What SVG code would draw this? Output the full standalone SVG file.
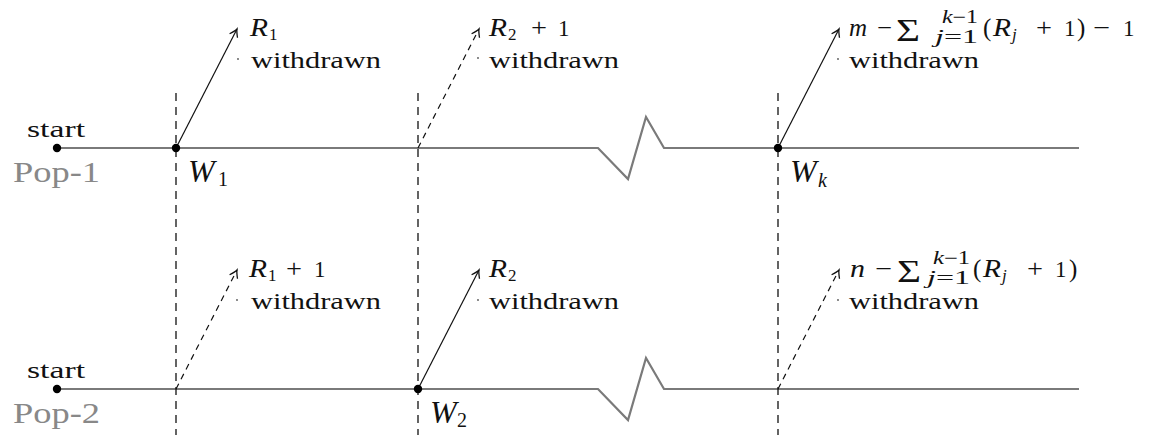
<svg xmlns="http://www.w3.org/2000/svg" width="1153" height="435" viewBox="0 0 1153 435">
<defs>
<marker id="to" markerUnits="userSpaceOnUse" markerWidth="14" markerHeight="14" viewBox="-8 -6 10 12" refX="0" refY="0" orient="auto">
<path d="M-6.5,-3.8 Q-2,-0.6 0,0 Q-2,0.6 -6.5,3.8" fill="none" stroke="#111" stroke-width="1.1"/>
</marker>
</defs>
<style>
text{font-family:"Liberation Serif","Times New Roman",serif;fill:#111}
.lbl{font-size:24px}
.pop{font-size:30px;fill:#888}
.m{font-size:23px}
.v{font-size:25px;font-style:italic}
.op{font-size:25px}
.big{font-size:32px}
.it{font-style:italic}
.sub{font-size:17px}
.ss{font-size:18px}
.W{font-size:32px;font-style:italic}
.time{fill:none;stroke:#7a7a7a;stroke-width:2.2;stroke-linejoin:miter}
.guide{fill:none;stroke:#111;stroke-width:1.3;stroke-dasharray:8 6}
.arr{fill:none;stroke:#111;stroke-width:1.2;marker-end:url(#to)}
.arr.d{stroke-dasharray:6 5}
.dot{fill:#000}
.tiny{fill:#555}
</style>

<g id="timelines">
<path class="time" d="M57,148 H598 L628,179 L646,117 L664,148 H1079"/>
<path class="time" d="M57,389 H598 L628,420 L646,358 L664,389 H1079"/>
</g>

<g id="guides">
<line class="guide" x1="176" y1="93" x2="176" y2="435"/>
<line class="guide" x1="418" y1="93" x2="418" y2="435"/>
<line class="guide" x1="778" y1="93" x2="778" y2="435"/>
</g>

<g id="connectors">
<line class="arr" x1="176" y1="148" x2="237" y2="29"/>
<line class="arr d" x1="418" y1="148" x2="479" y2="29"/>
<line class="arr" x1="778" y1="148" x2="839" y2="29"/>
<line class="arr d" x1="176" y1="389" x2="237" y2="270"/>
<line class="arr" x1="418" y1="389" x2="479" y2="270"/>
<line class="arr d" x1="778" y1="389" x2="839" y2="270"/>
</g>

<g id="pop1">
<circle class="dot" cx="57" cy="148" r="4.2"/>
<text class="lbl" x="27" y="137" textLength="58" lengthAdjust="spacingAndGlyphs">start</text>
<text class="pop" x="13" y="182" textLength="87" lengthAdjust="spacingAndGlyphs">Pop-1</text>
</g>

<g id="pop2">
<circle class="dot" cx="57" cy="389" r="4.2"/>
<text class="lbl" x="27" y="378" textLength="58" lengthAdjust="spacingAndGlyphs">start</text>
<text class="pop" x="13" y="423" textLength="87" lengthAdjust="spacingAndGlyphs">Pop-2</text>
</g>

<g id="w1">
<circle class="dot" cx="176" cy="148" r="4.2"/>
<text class="W" x="188" y="182">W</text>
<text x="218" y="186" style="font-size:20px">1</text>
</g>

<g id="wk">
<circle class="dot" cx="778" cy="148" r="4.2"/>
<text class="W" x="790" y="182">W</text>
<text class="it" x="818" y="187" style="font-size:20px">k</text>
</g>

<g id="w2">
<circle class="dot" cx="418" cy="389" r="4.2"/>
<text class="W" x="430" y="423">W</text>
<text x="457" y="427" style="font-size:20px">2</text>
</g>

<g id="label-r1">
<circle class="tiny" cx="238" cy="59" r="0.9"/>
<text class="v" x="250" y="36" textLength="18" lengthAdjust="spacingAndGlyphs">R</text>
<text class="sub" x="269" y="40">1</text>
<text class="lbl" x="251" y="68" textLength="130" lengthAdjust="spacingAndGlyphs">withdrawn</text>
</g>

<g id="label-r2p1">
<circle class="tiny" cx="478" cy="58" r="0.9"/>
<text class="v" x="489" y="36" textLength="18" lengthAdjust="spacingAndGlyphs">R</text>
<text class="sub" x="508" y="40">2</text>
<text class="op" x="531" y="36" textLength="16" lengthAdjust="spacingAndGlyphs">+</text>
<text class="m" x="558" y="36">1</text>
<text class="lbl" x="489" y="68" textLength="130" lengthAdjust="spacingAndGlyphs">withdrawn</text>
</g>

<g id="label-m">
<circle class="tiny" cx="838" cy="59" r="0.9"/>
<text class="v" x="849" y="36">m</text>
<text class="op" x="877" y="36" textLength="15" lengthAdjust="spacingAndGlyphs">−</text>
<text class="big" x="896" y="41" textLength="24" lengthAdjust="spacingAndGlyphs">Σ</text>
<text class="ss" x="942" y="23" textLength="36" lengthAdjust="spacingAndGlyphs"><tspan class="it">k</tspan>−1</text>
<text class="ss" x="935" y="43" textLength="43" lengthAdjust="spacingAndGlyphs"><tspan class="it">j</tspan>=1</text>
<text class="op" x="983" y="36">(</text>
<text class="v" x="993" y="36" textLength="18" lengthAdjust="spacingAndGlyphs">R</text>
<text class="sub it" x="1012" y="40">j</text>
<text class="op" x="1036" y="36" textLength="16" lengthAdjust="spacingAndGlyphs">+</text>
<text class="m" x="1064" y="36">1</text>
<text class="op" x="1077" y="36">)</text>
<text class="op" x="1093" y="36" textLength="17" lengthAdjust="spacingAndGlyphs">−</text>
<text class="m" x="1123" y="36">1</text>
<text class="lbl" x="849" y="68" textLength="130" lengthAdjust="spacingAndGlyphs">withdrawn</text>
</g>

<g id="label-r1p1">
<circle class="tiny" cx="237" cy="300" r="0.9"/>
<text class="v" x="249" y="277" textLength="18" lengthAdjust="spacingAndGlyphs">R</text>
<text class="sub" x="268" y="281">1</text>
<text class="op" x="286" y="277" textLength="16" lengthAdjust="spacingAndGlyphs">+</text>
<text class="m" x="314" y="277">1</text>
<text class="lbl" x="251" y="309" textLength="130" lengthAdjust="spacingAndGlyphs">withdrawn</text>
</g>

<g id="label-r2">
<circle class="tiny" cx="478" cy="300" r="0.9"/>
<text class="v" x="489" y="277" textLength="18" lengthAdjust="spacingAndGlyphs">R</text>
<text class="sub" x="508" y="281">2</text>
<text class="lbl" x="489" y="309" textLength="130" lengthAdjust="spacingAndGlyphs">withdrawn</text>
</g>

<g id="label-n">
<circle class="tiny" cx="838" cy="300" r="0.9"/>
<text class="v" x="850" y="277" textLength="15" lengthAdjust="spacingAndGlyphs">n</text>
<text class="op" x="875" y="277" textLength="17" lengthAdjust="spacingAndGlyphs">−</text>
<text class="big" x="897" y="282" textLength="24" lengthAdjust="spacingAndGlyphs">Σ</text>
<text class="ss" x="933" y="264" textLength="37" lengthAdjust="spacingAndGlyphs"><tspan class="it">k</tspan>−1</text>
<text class="ss" x="927" y="284" textLength="43" lengthAdjust="spacingAndGlyphs"><tspan class="it">j</tspan>=1</text>
<text class="op" x="973" y="277">(</text>
<text class="v" x="983" y="277" textLength="18" lengthAdjust="spacingAndGlyphs">R</text>
<text class="sub it" x="1002" y="281">j</text>
<text class="op" x="1027" y="277" textLength="16" lengthAdjust="spacingAndGlyphs">+</text>
<text class="m" x="1055" y="277">1</text>
<text class="op" x="1069" y="277">)</text>
<text class="lbl" x="849" y="309" textLength="130" lengthAdjust="spacingAndGlyphs">withdrawn</text>
</g>
</svg>
